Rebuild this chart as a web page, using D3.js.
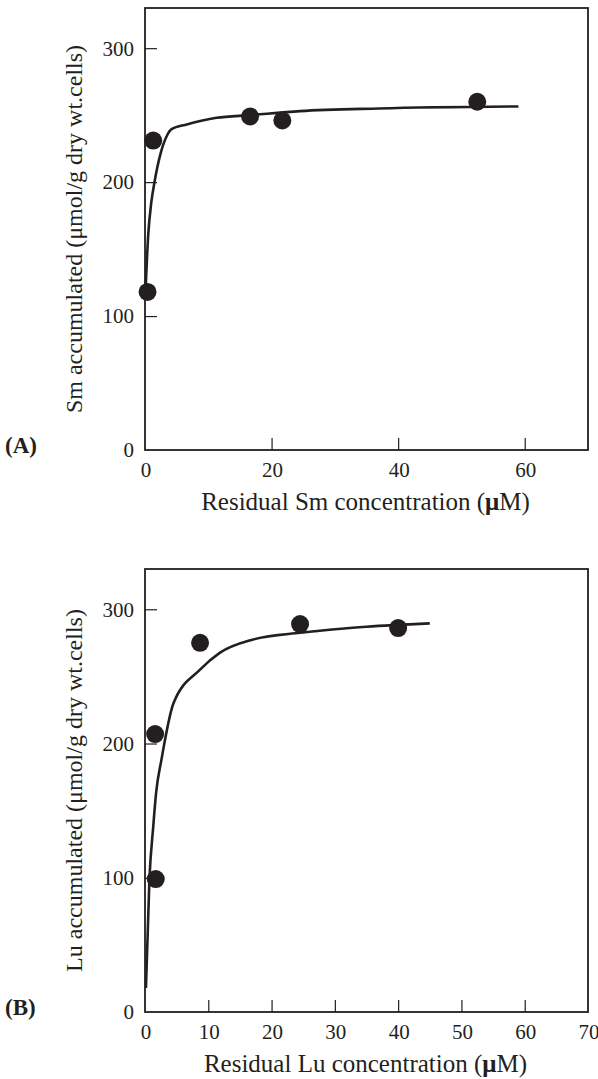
<!DOCTYPE html>
<html>
<head>
<meta charset="utf-8">
<script src="https://cdn.jsdelivr.net/npm/d3@7.9.0/dist/d3.min.js"></script>
<style>
  body { margin: 0; background: #fff; }
  svg text { font-family: "Liberation Serif", "Times New Roman", serif; fill: #231f20; }
</style>
</head>
<body>
<svg id="chart" width="598" height="1079"></svg>
<script>
// panel A - Sm
const smPointsX = [0.4, 1.3, 16.6, 21.7, 52.5];
const smPointsY = [118, 231, 249, 246, 260];
const smCurveX = [0.1, 0.5, 1, 1.5, 2.5, 3.5, 4.2, 6.6, 11.3, 16.6, 24.5, 37, 59];
const smCurveY = [120, 160, 185, 200, 222, 235, 239.5, 243, 248, 250, 253, 255, 256.5];
const smXTicks = [0, 20, 40, 60];

// panel B - Lu
const luPointsX = [1.6, 1.7, 8.7, 24.5, 40];
const luPointsY = [207, 99, 275, 289, 286];
const luCurveX = [0.15, 0.7, 1.3, 1.75, 2.6, 4.5, 8.7, 11.8, 17.1, 24.5, 27.6, 35, 45];
const luCurveY = [18, 99, 138, 163, 188, 230, 255, 267.5, 277.5, 282.5, 284, 287, 289.5];
const luXTicks = [0, 10, 20, 30, 40, 50, 60, 70];

const yTicks = [0, 100, 200, 300];

const svg = d3.select('#chart');
const ink = '#231f20';

function drawPanel(opts) {
  const { top, bottom, left, right } = opts;
  const x = d3.scaleLinear().domain([0, 70]).range([left, right]);
  const y = d3.scaleLinear().domain([0, 330]).range([bottom, top]);
  const g = svg.append('g');

  // frame
  g.append('rect')
    .attr('x', left).attr('y', top)
    .attr('width', right - left).attr('height', bottom - top)
    .attr('fill', 'none').attr('stroke', ink).attr('stroke-width', 1.8);

  // inward ticks
  g.append('g')
    .attr('transform', `translate(0,${bottom})`)
    .call(d3.axisTop(x).tickValues(opts.xTicks.filter(d => d > 0 && d < 70)).tickSize(12).tickFormat(''))
    .call(a => a.select('.domain').remove())
    .call(a => a.selectAll('line').attr('stroke', ink).attr('stroke-width', 1.2));
  g.append('g')
    .attr('transform', `translate(${left},0)`)
    .call(d3.axisRight(y).tickValues(yTicks.filter(d => d > 0)).tickSize(12).tickFormat(''))
    .call(a => a.select('.domain').remove())
    .call(a => a.selectAll('line').attr('stroke', ink).attr('stroke-width', 1.2));

  // tick labels
  g.selectAll('.xl').data(opts.xTicks).join('text')
    .attr('x', d => x(d) + 1).attr('y', bottom + 27)
    .attr('text-anchor', 'middle').attr('font-size', 21)
    .text(d => d);
  g.selectAll('.yl').data(yTicks).join('text')
    .attr('x', left - 11).attr('y', d => y(d))
    .attr('dy', '0.35em')
    .attr('text-anchor', 'end').attr('font-size', 21)
    .text(d => d);

  // titles
  const xt = g.append('text')
    .attr('x', (left + right) / 2 - 1).attr('y', bottom + 60)
    .attr('text-anchor', 'middle').attr('font-size', 25);
  xt.append('tspan').text(opts.xTitle + ' (');
  xt.append('tspan').attr('font-weight', 'bold').text('μ');
  xt.append('tspan').text('M)');

  g.append('text')
    .attr('transform', `translate(82,${(top + bottom) / 2}) rotate(-90)`)
    .attr('text-anchor', 'middle').attr('font-size', 24)
    .text(opts.yTitle);

  g.append('text')
    .attr('x', 5).attr('y', bottom + 3)
    .attr('font-size', 23).attr('font-weight', 'bold')
    .text(opts.label);

  // fitted curve
  const curve = opts.curveX.map((d, i) => [d, opts.curveY[i]]);
  const line = d3.line().x(d => x(d[0])).y(d => y(d[1])).curve(d3.curveMonotoneX);
  g.append('path')
    .attr('d', line(curve))
    .attr('fill', 'none').attr('stroke', ink).attr('stroke-width', 2.6);

  // data points
  const pts = opts.pointsX.map((d, i) => [d, opts.pointsY[i]]);
  g.selectAll('circle').data(pts).join('circle')
    .attr('cx', d => x(d[0])).attr('cy', d => y(d[1]))
    .attr('r', 9).attr('fill', ink);
}

drawPanel({
  top: 8, bottom: 450, left: 145, right: 588,
  xTicks: smXTicks,
  pointsX: smPointsX, pointsY: smPointsY,
  curveX: smCurveX, curveY: smCurveY,
  xTitle: 'Residual Sm concentration',
  yTitle: 'Sm accumulated (μmol/g dry wt.cells)',
  label: '(A)'
});

drawPanel({
  top: 569, bottom: 1012, left: 145, right: 588,
  xTicks: luXTicks,
  pointsX: luPointsX, pointsY: luPointsY,
  curveX: luCurveX, curveY: luCurveY,
  xTitle: 'Residual Lu concentration',
  yTitle: 'Lu accumulated (μmol/g dry wt.cells)',
  label: '(B)'
});
</script>
</body>
</html>
